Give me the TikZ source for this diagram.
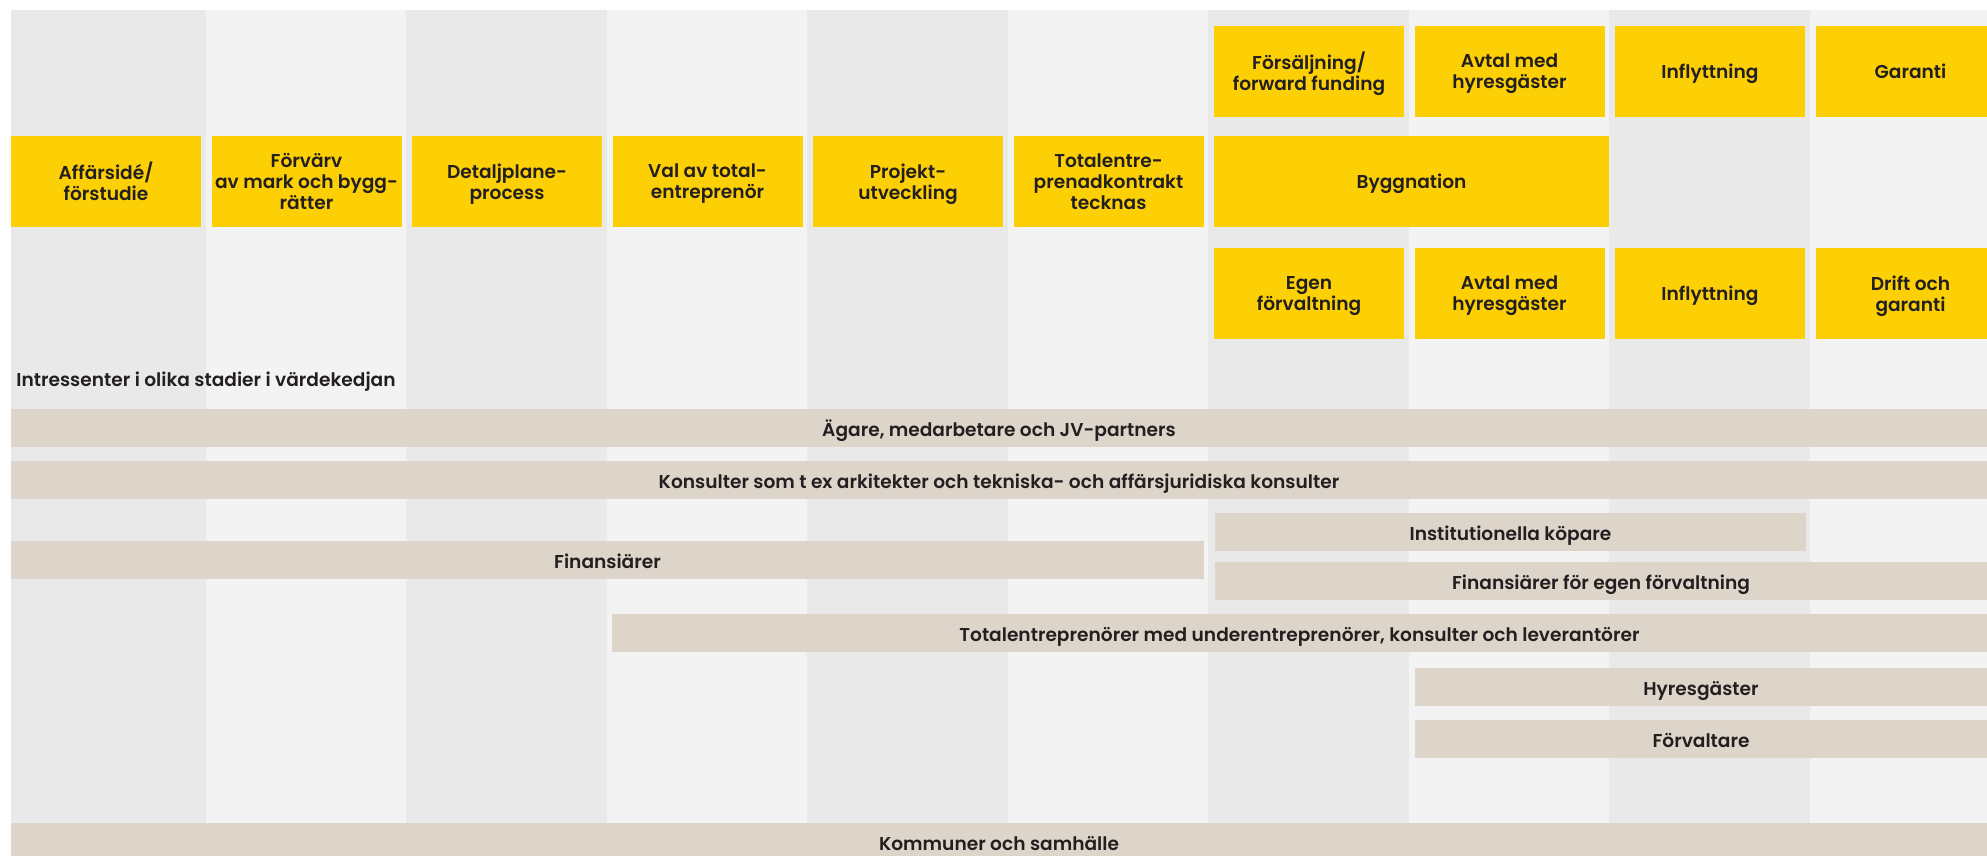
\documentclass[tikz,border=0pt]{standalone}
\usepackage{fontspec}
\setmainfont{Poppins}[BoldFont={Poppins SemiBold}]
\definecolor{colDark}{HTML}{E8E9E8}
\definecolor{colLight}{HTML}{F2F3F2}
\definecolor{phaseYellow}{HTML}{FDD005}
\definecolor{barTan}{HTML}{DDD5C9}
\definecolor{txt}{HTML}{231F20}
\begin{document}
\begin{tikzpicture}[x=0.5pt, y=-0.5pt]
        \tikzstyle{phase}=[fill=phaseYellow, inner sep=0pt, minimum width=95pt, minimum height=45.5pt, text depth=0pt, align=center, text=txt, font=\bfseries\fontsize{9.3}{10.4}\selectfont]
        \tikzstyle{party}=[fill=barTan, inner sep=0pt, minimum height=19pt, text height=8.2pt, text depth=0pt, text=txt, font=\bfseries\fontsize{9.3}{10.4}\selectfont]
        \clip (0, 0) rectangle (1987, 856);
        \fill[white] (0, 0) rectangle (1987, 856);

        % columns
        \fill[colDark] (11, 10) rectangle (1987, 823);
        \foreach \i in {1, 3, 5, 7, 9}
            \fill[colLight] ({5 + 200.5*\i}, 10) rectangle ({5 + 200.5*(\i+1)}, 823);

        \node[phase] (idea) at (106, 181.5) {Affärsidé/\\förstudie};
        \node[phase] (acquisition) at (306.5, 181.5) {Förvärv\\av mark och bygg-\\rätter};
        \node[phase] (zoning) at (507, 181.5) {Detaljplane-\\process};
        \node[phase] (contractor) at (707.5, 181.5) {Val av total-\\entreprenör};
        \node[phase] (development) at (908, 181.5) {Projekt-\\utveckling};
        \node[phase] (contract) at (1108.5, 181.5) {Totalentre-\\prenadkontrakt\\tecknas};
        \node[phase, minimum width=197.5pt] (construction) at (1411.5, 181.5) {Byggnation};

        \node[phase] (sale) at (1309, 71.5) {Försäljning/\\forward funding};
        \node[phase] (lease-top) at (1509.5, 71.5) {Avtal med\\hyresgäster};
        \node[phase] (movein-top) at (1710, 71.5) {Inflyttning};
        \node[phase] (warranty) at (1910.5, 71.5) {Garanti};

        \node[phase] (own-mgmt) at (1309, 293.5) {Egen\\förvaltning};
        \node[phase] (lease-bottom) at (1509.5, 293.5) {Avtal med\\hyresgäster};
        \node[phase] (movein-bottom) at (1710, 293.5) {Inflyttning};
        \node[phase] (operation) at (1910.5, 293.5) {Drift och\\garanti};

        \node[anchor=base west, inner sep=0pt, text=txt, font=\bfseries\fontsize{9.3}{10.4}\selectfont] (stakeholders) at (16, 386) {Intressenter i olika stadier i värdekedjan};

        \node[party, minimum width=988pt] (owners) at (999, 428) {Ägare, medarbetare och JV-partners};
        \node[party, minimum width=988pt] (consultants) at (999, 480) {Konsulter som t ex arkitekter och tekniska- och affärsjuridiska konsulter};
        \node[party, minimum width=295.5pt] (buyers) at (1510.5, 532) {Institutionella köpare};
        \node[party, minimum width=596.5pt] (financiers) at (607.5, 560) {Finansiärer};
        \node[party, minimum width=386pt] (own-financiers) at (1601, 581) {Finansiärer för egen förvaltning};
        \node[party, minimum width=687.5pt] (contractors) at (1299.5, 633) {Totalentreprenörer med underentreprenörer, konsulter och leverantörer};
        \node[party, minimum width=286pt] (tenants) at (1701, 687) {Hyresgäster};
        \node[party, minimum width=286pt] (managers) at (1701, 739) {Förvaltare};
        \node[party, minimum width=988pt] (municipalities) at (999, 842) {Kommuner och samhälle};
    \end{tikzpicture}
\end{document}
